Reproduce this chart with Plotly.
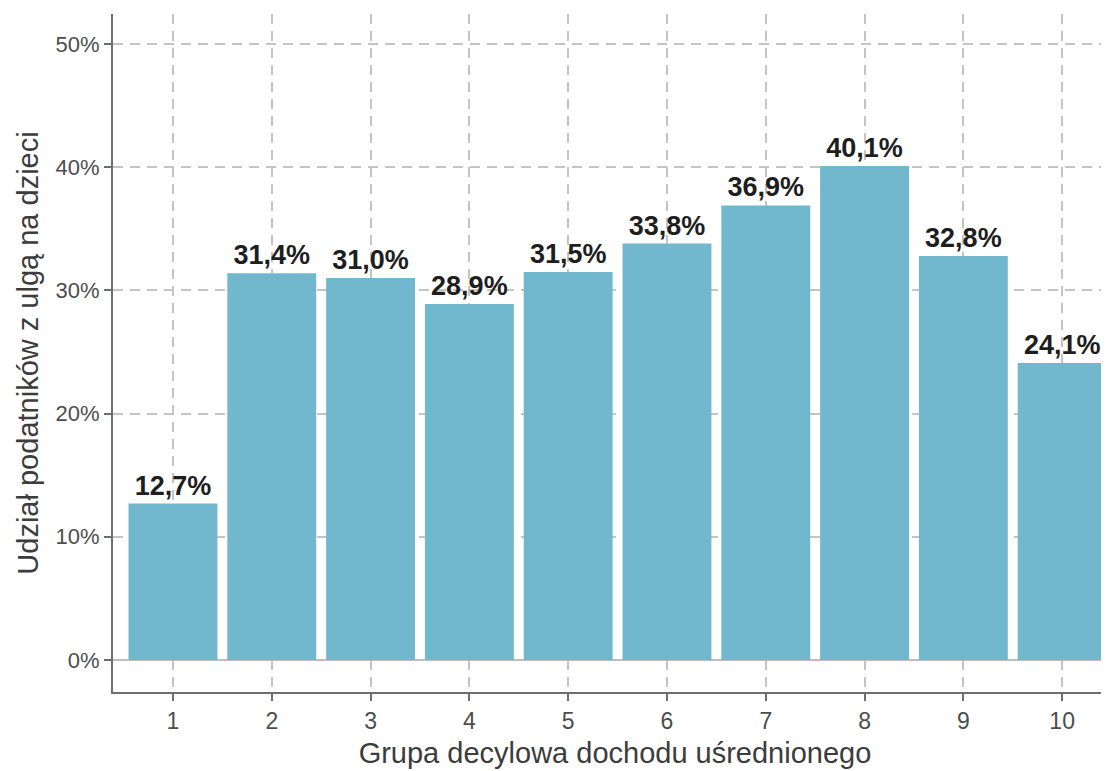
import plotly.graph_objects as go

categories = [1, 2, 3, 4, 5, 6, 7, 8, 9, 10]
values = [12.7, 31.4, 31.0, 28.9, 31.5, 33.8, 36.9, 40.1, 32.8, 24.1]
labels = ["12,7%", "31,4%", "31,0%", "28,9%", "31,5%", "33,8%", "36,9%", "40,1%", "32,8%", "24,1%"]
y_tickvals = [0, 10, 20, 30, 40, 50]
y_ticktext = ["0%", "10%", "20%", "30%", "40%", "50%"]

FONT = "Liberation Sans, Arial, sans-serif"
GRID = "#c4c4c4"
AXIS = "#6e6e6e"
TICKFONT = "#4d4d4d"

fig = go.Figure()
fig.add_trace(go.Bar(
    x=categories, y=values, width=0.9,
    marker=dict(color="#71b8cf", line=dict(width=0)),
    text=labels, textposition="outside", cliponaxis=False,
    textfont=dict(family=FONT, size=27, color="#1e1e1e", weight="bold"),
    hoverinfo="skip",
))

fig.update_layout(
    width=1109, height=771,
    margin=dict(l=105, r=0, t=6, b=87),
    paper_bgcolor="white", plot_bgcolor="white",
    font=dict(family=FONT),
    showlegend=False,
    bargap=0.1,
    uniformtext=dict(mode=False),
)
fig.update_xaxes(
    range=[0.393, 10.555],
    tickmode="array", tickvals=categories, ticktext=[str(c) for c in categories],
    showgrid=True, gridcolor=GRID, gridwidth=2, griddash="10px,7px",
    showline=True, linecolor=AXIS, linewidth=2,
    ticks="outside", ticklen=7, tickwidth=2, tickcolor=AXIS,
    tickfont=dict(size=23, color=TICKFONT),
    zeroline=False,
    title=dict(text="Grupa decylowa dochodu uśrednionego", font=dict(size=29, color="#3c3c3c"), standoff=10),
)
fig.update_yaxes(
    range=[-2.6, 52.44],
    tickmode="array", tickvals=y_tickvals, ticktext=y_ticktext,
    showgrid=True, gridcolor=GRID, gridwidth=2, griddash="10px,7px",
    showline=True, linecolor=AXIS, linewidth=2,
    ticks="outside", ticklen=7, tickwidth=2, tickcolor=AXIS,
    tickfont=dict(size=22, color=TICKFONT),
    zeroline=True, zerolinecolor="#bdbdbd", zerolinewidth=2,
    title=dict(text="Udział podatników z ulgą na dzieci", font=dict(size=29, color="#3c3c3c"), standoff=8),
)

fig.write_html("out.html")
